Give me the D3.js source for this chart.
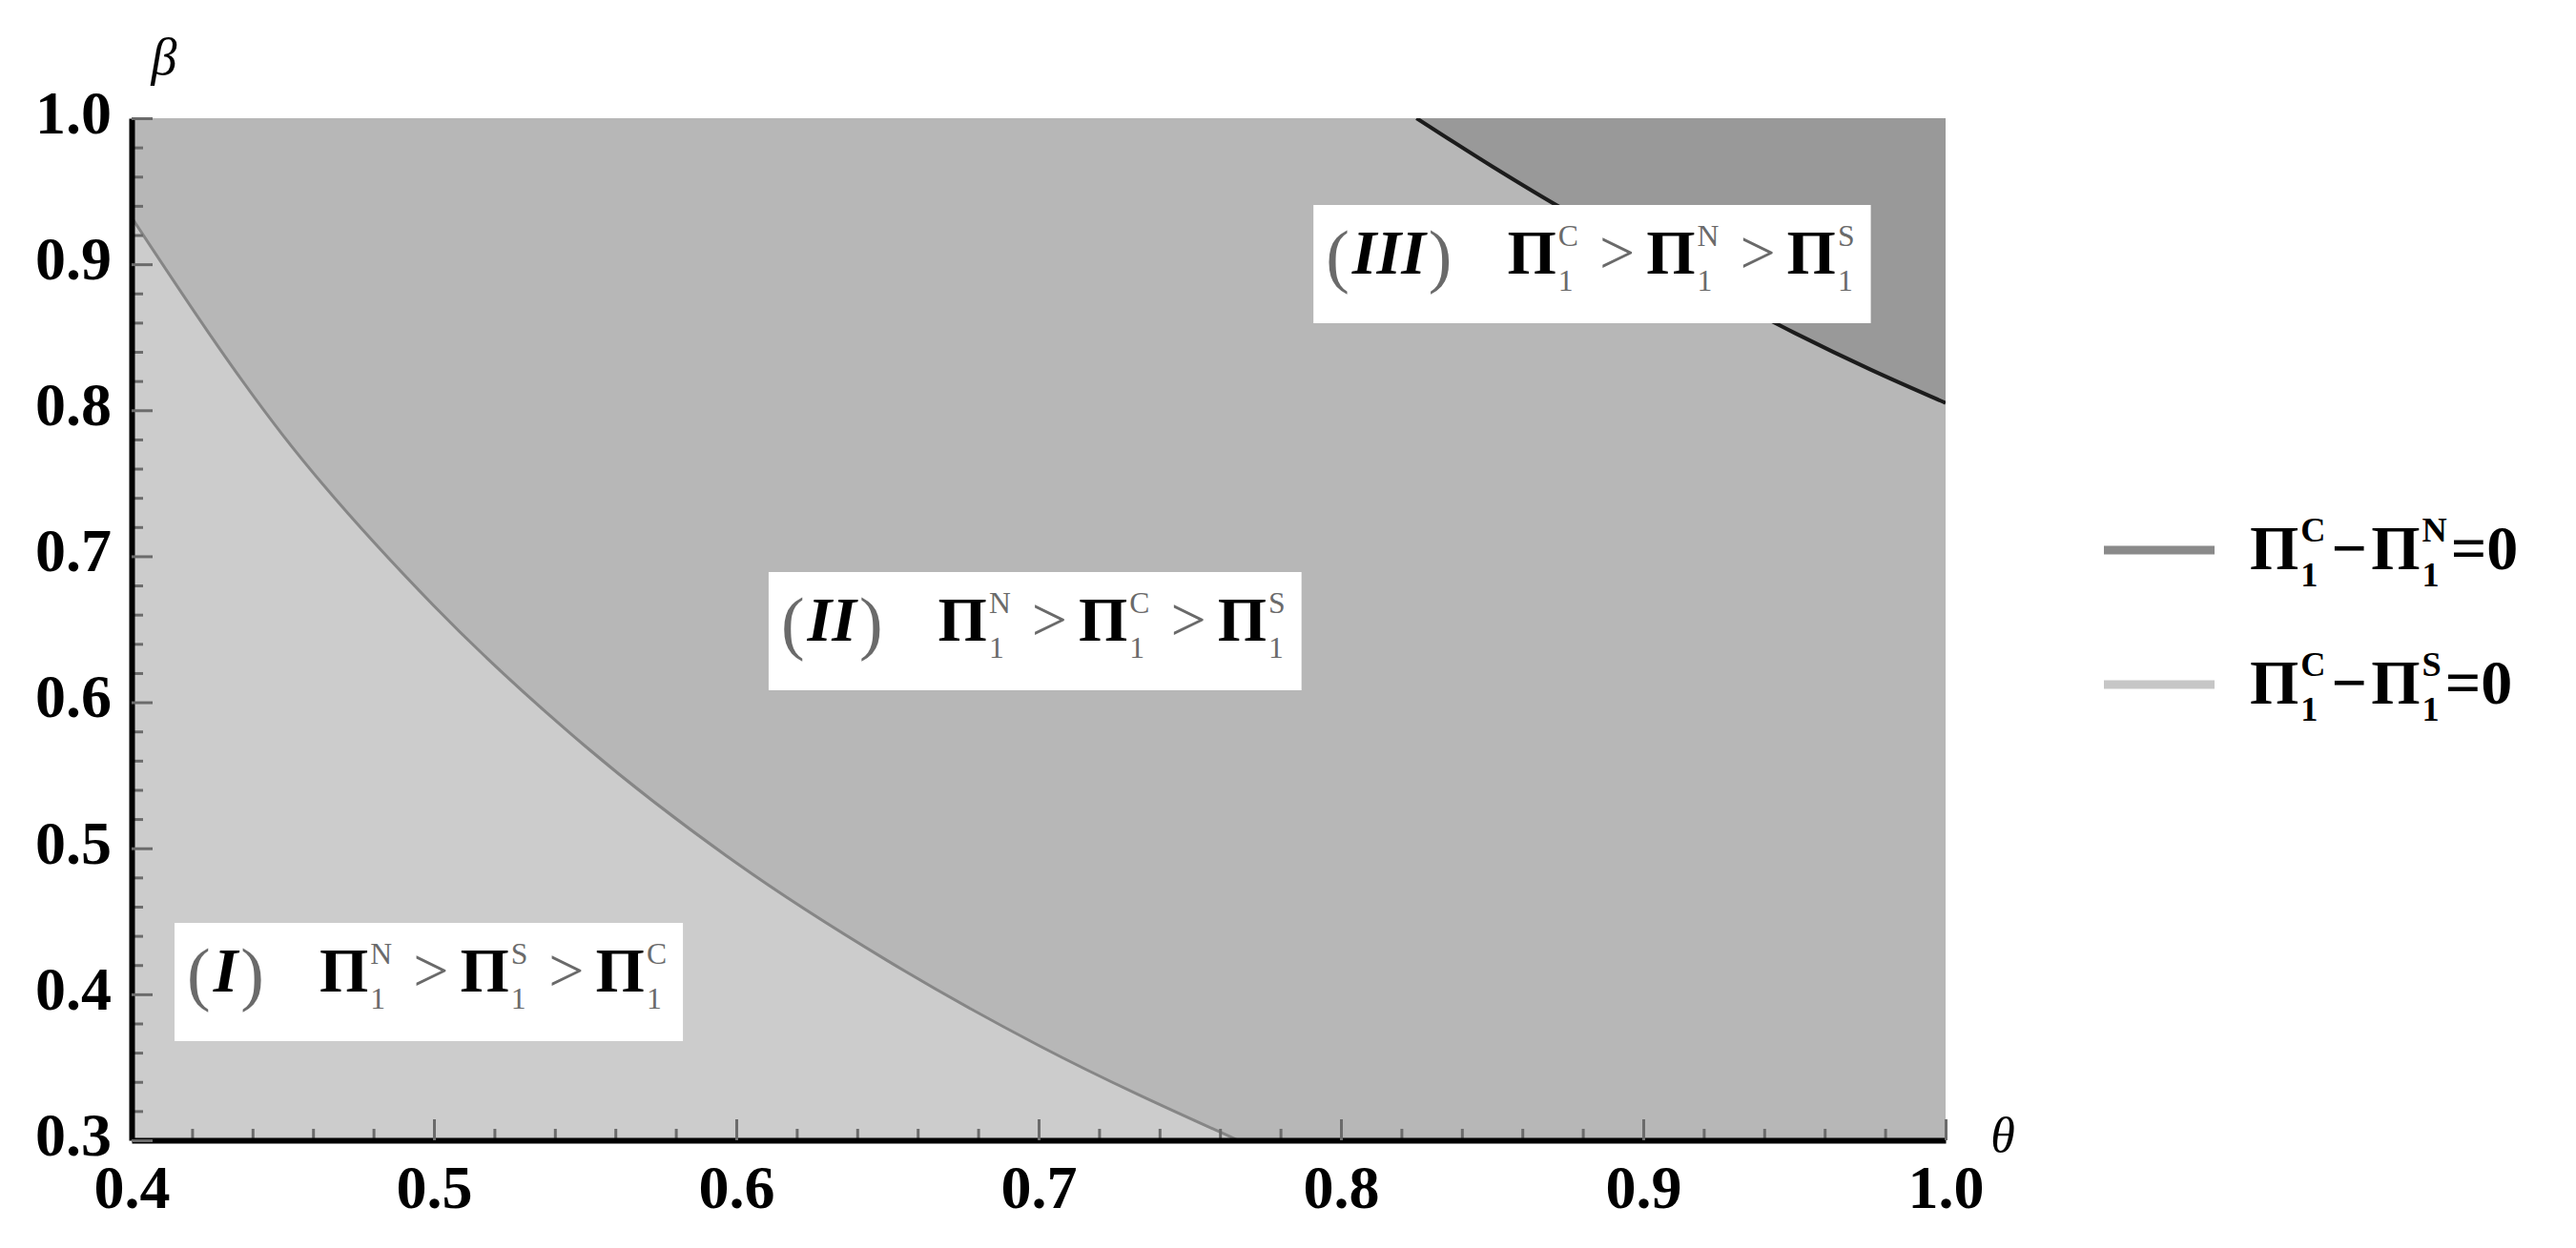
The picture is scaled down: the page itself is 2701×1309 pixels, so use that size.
<!DOCTYPE html>
<html><head><meta charset="utf-8">
<script src="https://cdn.jsdelivr.net/npm/d3@7"></script>
<style>html,body{margin:0;padding:0;background:#fff;} svg{display:block;}</style>
</head><body>
<svg id="chart" width="2701" height="1309"></svg>
<script>
// ---------------- data ----------------
const xDomain = [0.4, 1.0];
const yDomain = [0.3, 1.0];
const xTickValues = [0.4, 0.5, 0.6, 0.7, 0.8, 0.9, 1.0];
const xTickLabels = ["0.4", "0.5", "0.6", "0.7", "0.8", "0.9", "1.0"];
const yTickValues = [0.3, 0.4, 0.5, 0.6, 0.7, 0.8, 0.9, 1.0];
const yTickLabels = ["0.3", "0.4", "0.5", "0.6", "0.7", "0.8", "0.9", "1.0"];
const xAxisName = "θ";
const yAxisName = "β";

// boundary  Π1C − Π1S = 0  (light line, between regions I and II)
const csTheta = [0.40, 0.45, 0.50, 0.55, 0.60, 0.65, 0.70, 0.766];
const csBeta  = [0.932, 0.783, 0.666, 0.570, 0.490, 0.423, 0.365, 0.300];

// boundary  Π1C − Π1N = 0  (dark line, between regions II and III)
const cnTheta = [0.825, 0.85, 0.875, 0.90, 0.925, 0.95, 0.975, 1.0];
const cnBeta  = [1.000, 0.967, 0.936, 0.908, 0.880, 0.853, 0.828, 0.805];

// region labels
const regionNumerals = ["I", "II", "III"];
const regionOrders = [["N", "S", "C"], ["N", "C", "S"], ["C", "N", "S"]];
const regionTheta = [0.4142, 0.6107, 0.7909];
const regionBeta  = [0.4084, 0.6487, 0.9001];

// legend
const legendPairs = [["C", "N"], ["C", "S"]];

// ---------------- drawing ----------------
const svg = d3.select("#chart");
svg.append("rect").attr("width", 2701).attr("height", 1309).attr("fill", "#fff");

const x = d3.scaleLinear(xDomain, [138, 2040]);
const y = d3.scaleLinear(yDomain, [1196, 124]);

const colRegion1 = "#cccccc", colRegion2 = "#b7b7b7", colRegion3 = "#999999";
const serif = "'Liberation Serif','Times New Roman',serif";

svg.append("clipPath").attr("id", "clip").append("rect")
  .attr("x", x(xDomain[0])).attr("y", y(yDomain[1]))
  .attr("width", x(xDomain[1]) - x(xDomain[0])).attr("height", y(yDomain[0]) - y(yDomain[1]));

const plot = svg.append("g").attr("clip-path", "url(#clip)");
plot.append("rect")
  .attr("x", x(xDomain[0])).attr("y", y(yDomain[1]))
  .attr("width", x(xDomain[1]) - x(xDomain[0])).attr("height", y(yDomain[0]) - y(yDomain[1]))
  .attr("fill", colRegion2);

const cs = csTheta.map((t, i) => [t, csBeta[i]]);
const cn = cnTheta.map((t, i) => [t, cnBeta[i]]);

const areaBelow = d3.area().x(d => x(d[0])).y0(y(yDomain[0])).y1(d => y(d[1])).curve(d3.curveMonotoneX);
const areaAbove = d3.area().x(d => x(d[0])).y0(y(yDomain[1])).y1(d => y(d[1])).curve(d3.curveMonotoneX);
const line = d3.line().x(d => x(d[0])).y(d => y(d[1])).curve(d3.curveMonotoneX);

plot.append("path").attr("d", areaBelow(cs)).attr("fill", colRegion1);
plot.append("path").attr("d", areaAbove(cn)).attr("fill", colRegion3);
plot.append("path").attr("d", line(cs)).attr("fill", "none").attr("stroke", "#868686").attr("stroke-width", 3);
plot.append("path").attr("d", line(cn)).attr("fill", "none").attr("stroke", "#1c1c1c").attr("stroke-width", 4);

// ---------------- axes ----------------
function styleAxis(g) {
  g.selectAll(".tick line").attr("stroke", "#6b6b6b").attr("stroke-width", 3);
  g.selectAll(".tick text").attr("font-family", serif).attr("font-weight", "bold")
    .attr("font-size", 64).attr("fill", "#000");
}
const xMinor = x.ticks(30).filter(v => !xTickValues.some(m => Math.abs(m - v) < 1e-9));
const yMinor = y.ticks(35).filter(v => !yTickValues.some(m => Math.abs(m - v) < 1e-9));

const gxMinor = svg.append("g").attr("transform", `translate(0,${y(yDomain[0])})`)
  .call(d3.axisBottom(x).tickValues(xMinor).tickFormat("").tickSizeInner(-12).tickSizeOuter(0));
gxMinor.select(".domain").remove(); styleAxis(gxMinor);
const gyMinor = svg.append("g").attr("transform", `translate(${x(xDomain[0])},0)`)
  .call(d3.axisLeft(y).tickValues(yMinor).tickFormat("").tickSizeInner(-12).tickSizeOuter(0));
gyMinor.select(".domain").remove(); styleAxis(gyMinor);

const gx = svg.append("g").attr("transform", `translate(0,${y(yDomain[0])})`)
  .call(d3.axisBottom(x).tickValues(xTickValues).tickFormat((d, i) => xTickLabels[i])
    .tickSizeInner(-22).tickSizeOuter(0).tickPadding(26));
styleAxis(gx);
gx.select(".domain").attr("stroke", "#000").attr("stroke-width", 6);

const gy = svg.append("g").attr("transform", `translate(${x(xDomain[0])},0)`)
  .call(d3.axisLeft(y).tickValues(yTickValues).tickFormat((d, i) => yTickLabels[i])
    .tickSizeInner(-22).tickSizeOuter(0).tickPadding(21));
styleAxis(gy);
gy.selectAll(".tick text").attr("dy", "0.24em");
gy.select(".domain").attr("stroke", "#000").attr("stroke-width", 6);

svg.append("text").attr("x", x(xDomain[0]) + 34).attr("y", y(yDomain[1]) - 64)
  .attr("text-anchor", "middle").attr("dominant-baseline", "central")
  .attr("font-family", serif).attr("font-style", "italic").attr("font-size", 54).text(yAxisName);
svg.append("text").attr("x", x(xDomain[1]) + 60).attr("y", y(yDomain[0]) - 6)
  .attr("text-anchor", "middle").attr("dominant-baseline", "central")
  .attr("font-family", serif).attr("font-style", "italic").attr("font-size", 52).text(xAxisName);

// ---------------- math text helper ----------------
function mathRow(g, x0, base, parts, size) {
  let cx = x0;
  parts.forEach(p => {
    if (p.stack) {
      const fs = size * (p.scale || 0.48);
      const a = g.append("text").attr("x", cx).attr("y", base + size * 0.28)
        .attr("font-family", serif).attr("font-size", fs).attr("font-weight", p.w || "normal")
        .attr("fill", p.c || "#000").text(p.sub);
      const b = g.append("text").attr("x", cx + (p.supdx || 0)).attr("y", base - size * 0.44)
        .attr("font-family", serif).attr("font-size", fs).attr("font-weight", p.w || "normal")
        .attr("fill", p.c || "#000").text(p.sup);
      const w = Math.max(a.node().getComputedTextLength(), b.node().getComputedTextLength() + (p.supdx || 0));
      cx += w + (p.gap || 0);
    } else {
      const t = g.append("text").attr("x", cx).attr("y", base + (p.dy || 0))
        .attr("font-family", serif).attr("font-size", size * (p.s || 1))
        .attr("font-weight", p.w || "normal").attr("font-style", p.i ? "italic" : "normal")
        .attr("fill", p.c || "#000").text(p.t);
      cx += t.node().getComputedTextLength() + (p.gap || 0);
    }
  });
  return cx - x0;
}

// ---------------- region labels ----------------
regionNumerals.forEach((num, k) => {
  const g = svg.append("g");
  const left = x(regionTheta[k]), cy = y(regionBeta[k]);
  const boxH = 124;
  const rect = g.append("rect").attr("x", left).attr("y", cy - boxH / 2).attr("height", boxH).attr("fill", "#fff");
  const ord = regionOrders[k];
  const parts = [
    { t: "(", s: 1.12, c: "#6a6a6a", dy: 6, gap: 3 },
    { t: num, i: true, w: "bold", gap: 3 },
    { t: ")", s: 1.12, c: "#6a6a6a", dy: 6, gap: 58 },
    { t: "Π", w: "bold", gap: 2 },
    { stack: true, sub: "1", sup: ord[0], c: "#6a6a6a", gap: 22 },
    { t: ">", c: "#6a6a6a", gap: 12 },
    { t: "Π", w: "bold", gap: 2 },
    { stack: true, sub: "1", sup: ord[1], c: "#6a6a6a", gap: 22 },
    { t: ">", c: "#6a6a6a", gap: 12 },
    { t: "Π", w: "bold", gap: 2 },
    { stack: true, sub: "1", sup: ord[2], c: "#6a6a6a", gap: 0 }
  ];
  const w = mathRow(g, left + 13, cy + 10, parts, 66);
  rect.attr("width", w + 30);
});

// ---------------- legend ----------------
const legendColors = ["#8a8a8a", "#c6c6c6"];
const legendBase = [597, 738];
legendPairs.forEach((pr, k) => {
  const g = svg.append("g");
  g.append("line").attr("x1", 2206).attr("x2", 2322)
    .attr("y1", legendBase[k] - 20).attr("y2", legendBase[k] - 20)
    .attr("stroke", legendColors[k]).attr("stroke-width", 9);
  mathRow(g, 2359, legendBase[k], [
    { t: "Π", w: "bold", gap: 2 },
    { stack: true, sub: "1", sup: pr[0], w: "bold", scale: 0.55, gap: 6 },
    { t: "−", w: "bold", gap: 4 },
    { t: "Π", w: "bold", gap: 2 },
    { stack: true, sub: "1", sup: pr[1], w: "bold", scale: 0.55, gap: 4 },
    { t: "=0", w: "bold", gap: 0 }
  ], 66);
});
</script>
</body></html>
